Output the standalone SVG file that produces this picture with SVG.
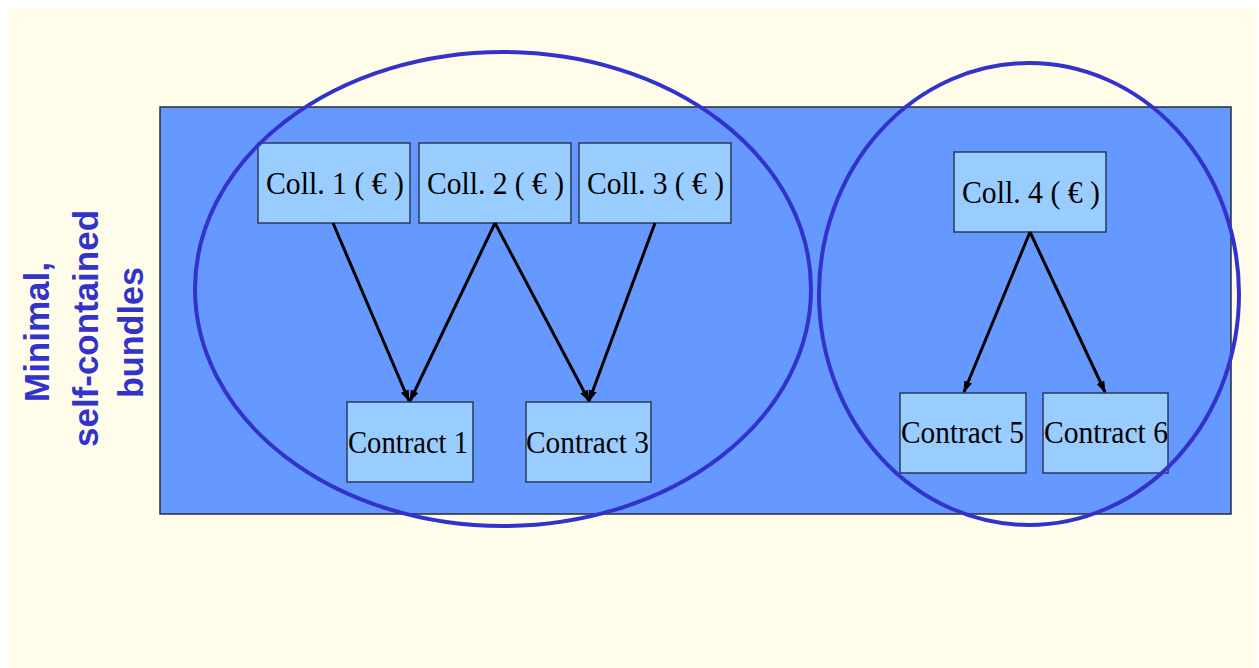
<svg xmlns="http://www.w3.org/2000/svg" width="1259" height="668" viewBox="0 0 1259 668">
<defs>
<style>
.box{fill:#99CCFF;stroke:#2a3a5a;stroke-width:1.5}
.lbl{font-family:"Liberation Serif","Times New Roman",serif;font-size:32px;fill:#000;text-anchor:middle}
.ell{fill:none;stroke:#3333CC;stroke-width:4}
.edge{stroke:#000;stroke-width:3;fill:none;marker-end:url(#ah)}
.side{font-family:"Liberation Sans",Arial,sans-serif;font-weight:bold;font-size:35px;fill:#3333CC;text-anchor:middle}
</style>
<marker id="ah" viewBox="0 0 10 10" refX="9" refY="5" markerWidth="4" markerHeight="4" orient="auto" markerUnits="strokeWidth">
<path d="M0,1.5 L10,5 L0,8.5 z" fill="#000"/>
</marker>
</defs>
<rect x="0" y="0" width="1259" height="668" fill="#ffffff"/>
<rect x="8" y="9" width="1249" height="659" fill="#FFFDEA"/>
<rect id="frame" x="160" y="107" width="1071" height="407" fill="#6699FF" stroke="#2a2a3a" stroke-width="1.5"/>
<g id="sidelabel" transform="rotate(-90)">
<text class="side" x="-332" y="49" textLength="140" lengthAdjust="spacingAndGlyphs">Minimal,</text>
<text class="side" x="-328.5" y="98" textLength="237" lengthAdjust="spacingAndGlyphs">self-contained</text>
<text class="side" x="-332.5" y="143" textLength="131" lengthAdjust="spacingAndGlyphs">bundles</text>
</g>
<g id="coll1"><rect class="box" x="258" y="143" width="152" height="80"/><text class="lbl" x="335" y="194" textLength="138" lengthAdjust="spacingAndGlyphs">Coll. 1 ( € )</text></g>
<g id="coll2"><rect class="box" x="419" y="143" width="152" height="80"/><text class="lbl" x="495.5" y="194" textLength="137" lengthAdjust="spacingAndGlyphs">Coll. 2 ( € )</text></g>
<g id="coll3"><rect class="box" x="579" y="143" width="152" height="80"/><text class="lbl" x="655.5" y="194" textLength="137" lengthAdjust="spacingAndGlyphs">Coll. 3 ( € )</text></g>
<g id="coll4"><rect class="box" x="954" y="152" width="152" height="80"/><text class="lbl" x="1031" y="203" textLength="138" lengthAdjust="spacingAndGlyphs">Coll. 4 ( € )</text></g>
<g id="contract1"><rect class="box" x="347" y="402" width="126" height="80"/><text class="lbl" x="408" y="453" textLength="120" lengthAdjust="spacingAndGlyphs">Contract 1</text></g>
<g id="contract3"><rect class="box" x="526" y="402" width="125" height="80"/><text class="lbl" x="587.5" y="453" textLength="123" lengthAdjust="spacingAndGlyphs">Contract 3</text></g>
<g id="contract5"><rect class="box" x="900" y="393" width="126" height="80"/><text class="lbl" x="962.5" y="443" textLength="123" lengthAdjust="spacingAndGlyphs">Contract 5</text></g>
<g id="contract6"><rect class="box" x="1043" y="393" width="125" height="80"/><text class="lbl" x="1106" y="443" textLength="124" lengthAdjust="spacingAndGlyphs">Contract 6</text></g>
<g id="connectors">
<line class="edge" x1="333" y1="223" x2="409" y2="401"/>
<line class="edge" x1="495" y1="223" x2="410" y2="401"/>
<line class="edge" x1="495" y1="223" x2="589" y2="401"/>
<line class="edge" x1="655" y1="223" x2="589" y2="401"/>
<line class="edge" x1="1030" y1="232" x2="964" y2="392"/>
<line class="edge" x1="1030" y1="232" x2="1105" y2="392"/>
</g>
<g id="bundles">
<ellipse id="bundle1" class="ell" cx="503" cy="289" rx="308" ry="237"/>
<ellipse id="bundle2" class="ell" cx="1029" cy="294" rx="210" ry="231"/>
</g>
</svg>
